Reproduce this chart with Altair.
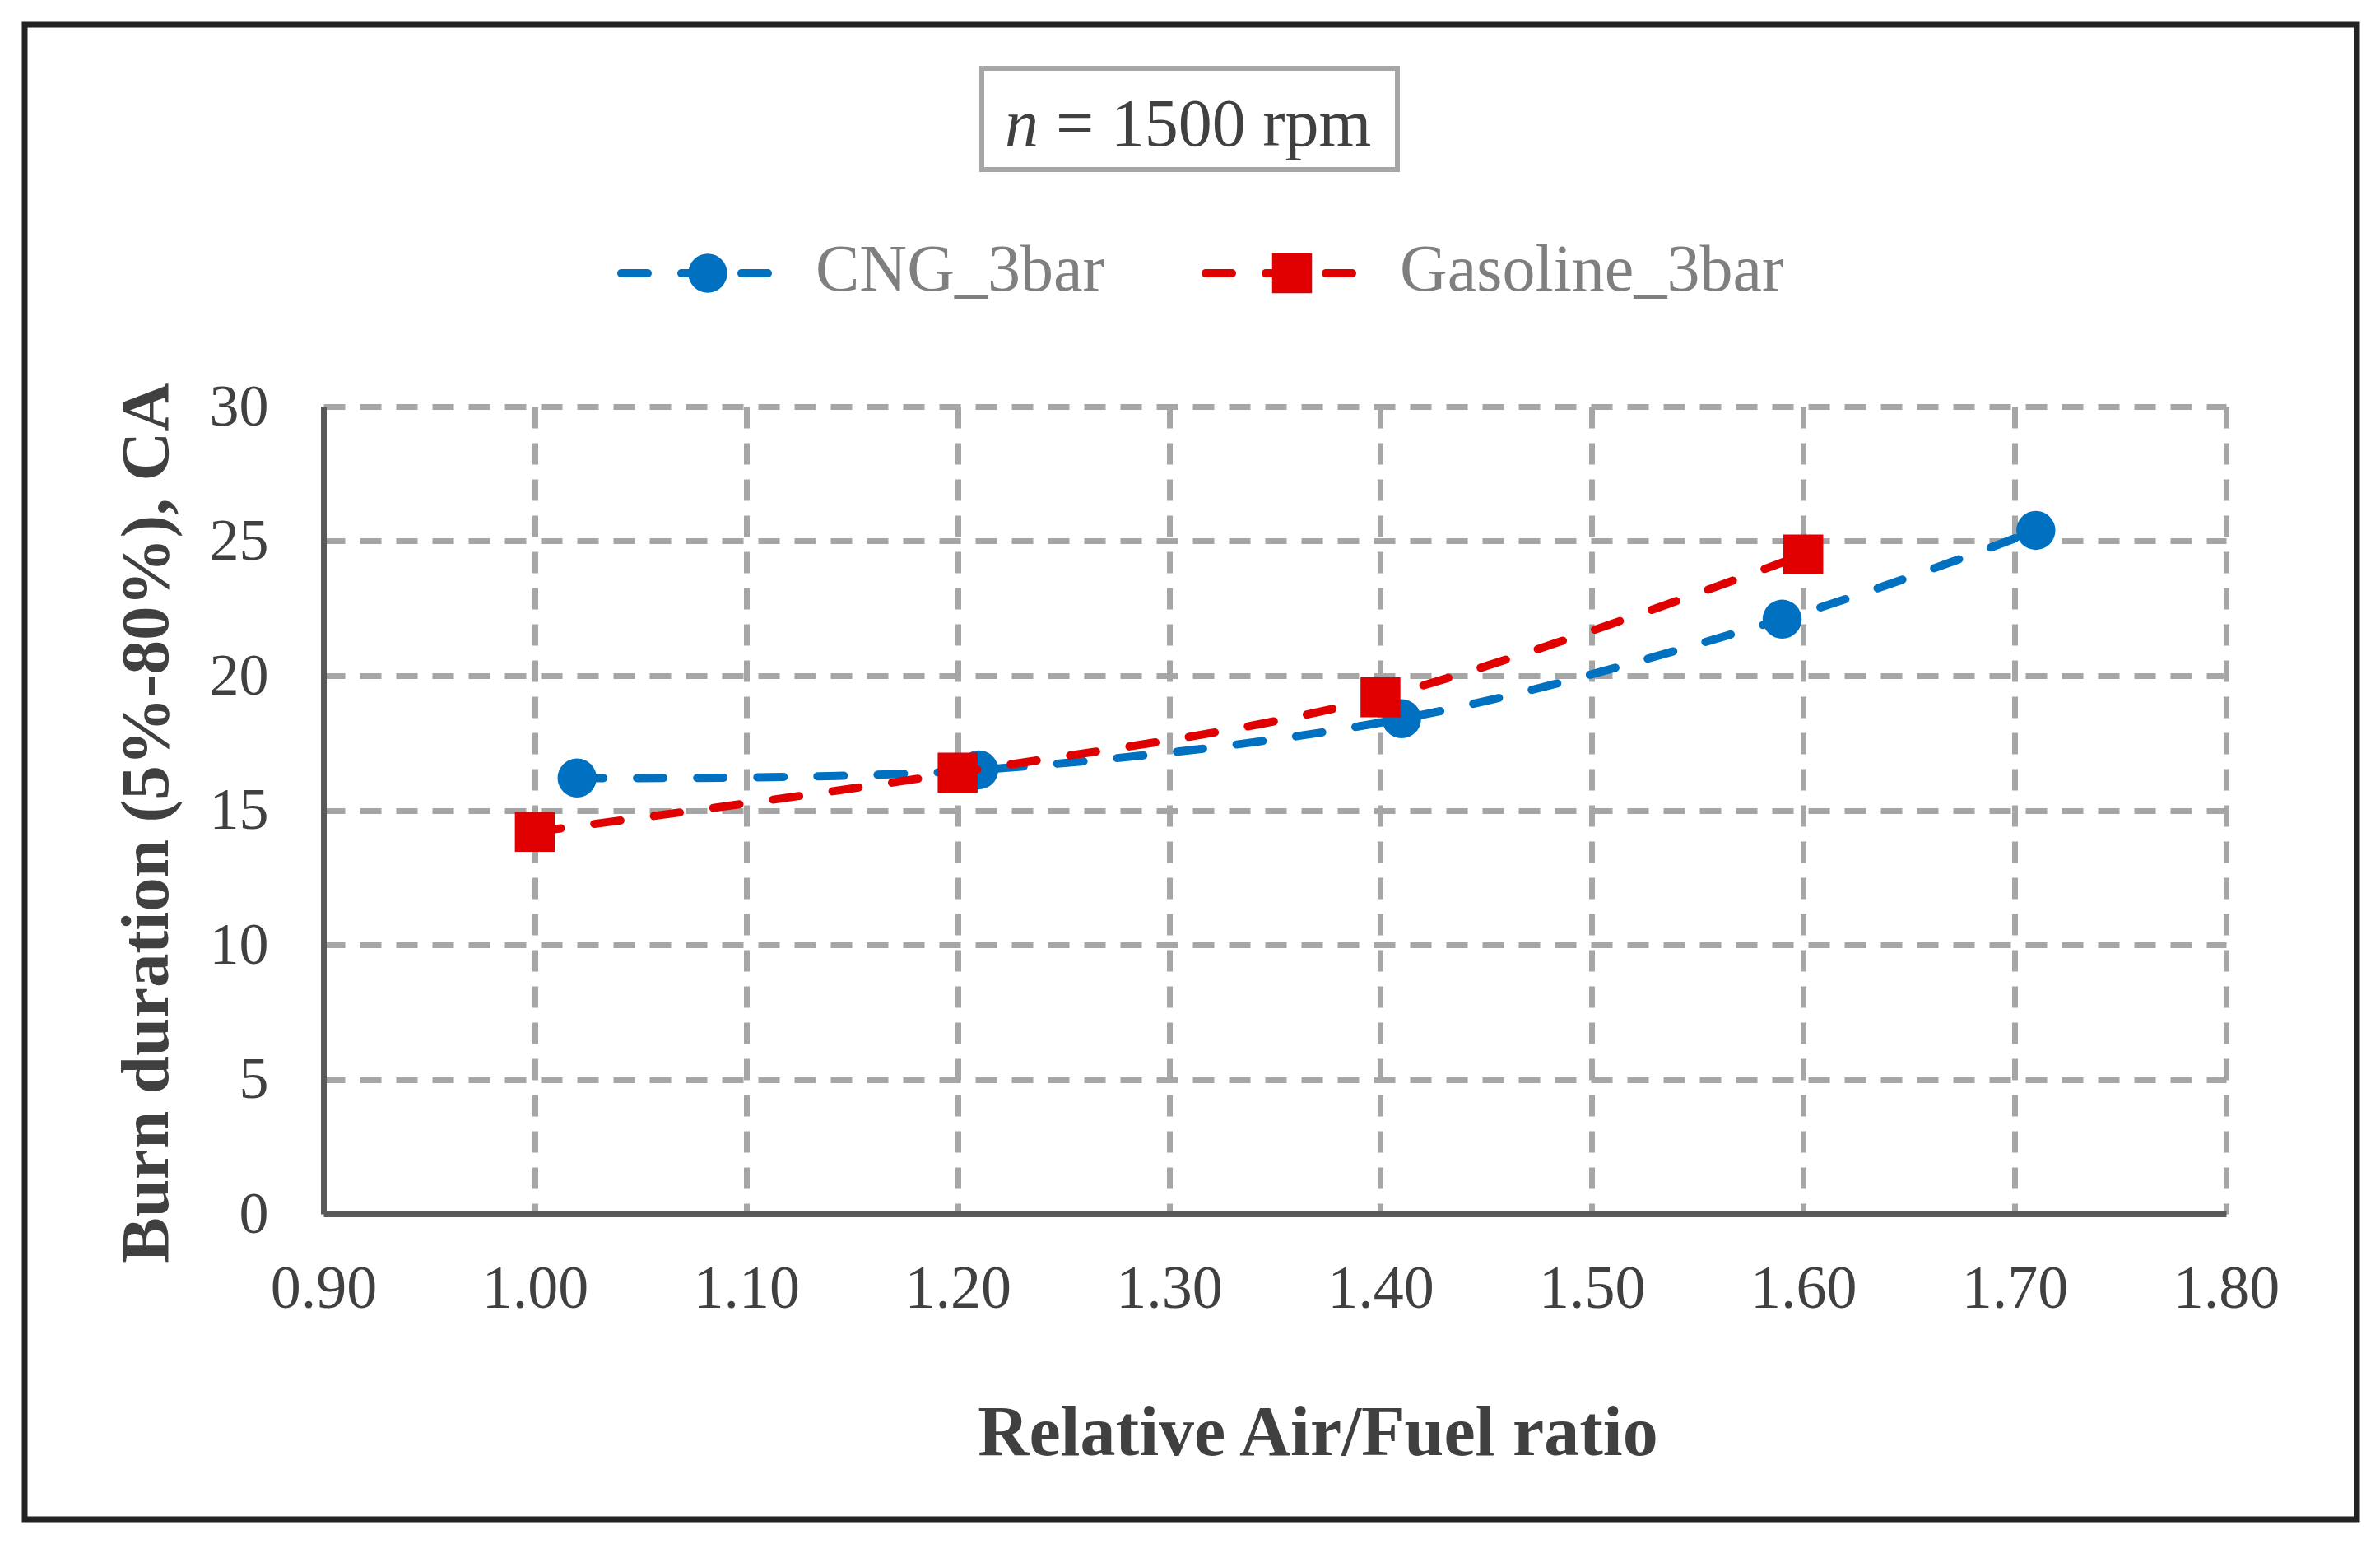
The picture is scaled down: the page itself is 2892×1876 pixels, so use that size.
import altair as alt
import pandas as pd

# ---------------- data ----------------
series_names = ["CNG_3bar", "Gasoline_3bar"]
series_colors = ["#0070C0", "#E00000"]
series_shapes = ["circle", "square"]
marker_sizes = [2250, 2350]

cng_x = [1.02, 1.21, 1.41, 1.59, 1.71]
cng_y = [16.2, 16.5, 18.4, 22.1, 25.4]
gas_x = [1.00, 1.20, 1.40, 1.60]
gas_y = [14.2, 16.4, 19.2, 24.5]

x_ticks = [0.90, 1.00, 1.10, 1.20, 1.30, 1.40, 1.50, 1.60, 1.70, 1.80]
y_ticks = [0, 5, 10, 15, 20, 25, 30]

title_var = "n"
title_rest = "= 1500 rpm"
x_title = "Relative Air/Fuel ratio"
y_title = "Burn duration (5%-80%), CA"

series_x = [cng_x, gas_x]
series_y = [cng_y, gas_y]

# ---------------- style ----------------
FONT = "Liberation Serif"
TEXT_DARK = "#404040"
GRID = "#a6a6a6"
AXIS = "#595959"
W, H = 2312, 981
LW = 10

x_scale = alt.Scale(domain=[0.9, 1.8], nice=False, zero=False)
y_scale = alt.Scale(domain=[0, 30], nice=False)
color_scale = alt.Scale(domain=series_names, range=series_colors)
shape_scale = alt.Scale(domain=series_names, range=series_shapes)

x_axis = alt.Axis(
    values=x_ticks, format=".2f", grid=True, gridColor=GRID, gridWidth=7,
    gridDash=[26, 18],
    gridOpacity={"condition": {"test": "datum.value < 0.95", "value": 0}, "value": 1},
    domainColor=AXIS, domainWidth=7, ticks=False, tickSize=0,
    labelFont=FONT, labelFontSize=74, labelColor=TEXT_DARK, labelPadding=113,
    labelBaseline="alphabetic", labelFlush=False, labelOverlap=False,
    title=x_title, titleFont=FONT, titleFontSize=86, titleFontWeight="bold",
    titleColor=TEXT_DARK, titleX=1208, titleY=292, titleAlign="center",
    titleBaseline="alphabetic",
)
y_axis = alt.Axis(
    values=y_ticks, grid=True, gridColor=GRID, gridWidth=7, gridDash=[26, 18],
    gridOpacity={"condition": {"test": "datum.value === 0", "value": 0}, "value": 1},
    domainColor=AXIS, domainWidth=7, ticks=False, tickSize=0,
    labelFont=FONT, labelFontSize=72, labelColor=TEXT_DARK, labelPadding=67,
    labelFlush=False, labelOverlap=False,
    title=y_title, titleFont=FONT, titleFontSize=83, titleFontWeight="bold",
    titleColor=TEXT_DARK, titleX=-190, titleY=505, titleAngle=270,
    titleAlign="center", titleBaseline="alphabetic",
)

one = pd.DataFrame({"k": [0]})

# outer frame
frame = alt.Chart(one).mark_rect(fill="white", fillOpacity=0, stroke="#222222", strokeWidth=7).encode(
    x=alt.value(-363), x2=alt.value(2471), y=alt.value(-464), y2=alt.value(1352)
)

# title box
title_box = alt.Chart(one).mark_rect(fill="white", stroke=GRID, strokeWidth=6).encode(
    x=alt.value(800), x2=alt.value(1305), y=alt.value(-411), y2=alt.value(-288)
)
t1 = alt.Chart(pd.DataFrame({"t": [title_var]})).mark_text(
    font=FONT, fontSize=82, fontStyle="italic", color=TEXT_DARK, align="left", baseline="alphabetic"
).encode(x=alt.value(828), y=alt.value(-317), text="t:N")
t2 = alt.Chart(pd.DataFrame({"t": [title_rest]})).mark_text(
    font=FONT, fontSize=82, color=TEXT_DARK, align="left", baseline="alphabetic"
).encode(x=alt.value(890), y=alt.value(-317), text="t:N")

layers = [frame, title_box, t1, t2]

# legend
legend_centers = [467, 1177]
LY = -162
for i, name in enumerate(series_names):
    m = legend_centers[i]
    d = pd.DataFrame({"series": [name]})
    col = alt.Color("series:N", scale=color_scale, legend=None)
    for a, b in [(m - 105, m - 73), (m - 32, m - 20), (m + 41, m + 73)]:
        layers.append(
            alt.Chart(d).mark_rule(strokeWidth=LW, strokeCap="round").encode(
                x=alt.value(a), x2=alt.value(b), y=alt.value(LY), color=col
            )
        )
    layers.append(
        alt.Chart(d).mark_point(filled=True, size=marker_sizes[i], opacity=1).encode(
            x=alt.value(m), y=alt.value(LY), color=col,
            shape=alt.Shape("series:N", scale=shape_scale, legend=None),
        )
    )
    layers.append(
        alt.Chart(d).mark_text(font=FONT, fontSize=80, color="#7f7f7f", align="left", baseline="alphabetic").encode(
            x=alt.value(m + 131), y=alt.value(-141), text="series:N"
        )
    )

# series
for i, name in enumerate(series_names):
    df = pd.DataFrame({"series": name, "x": series_x[i], "y": series_y[i]})
    X = alt.X("x:Q", scale=x_scale, axis=x_axis)
    Y = alt.Y("y:Q", scale=y_scale, axis=y_axis)
    C = alt.Color("series:N", scale=color_scale, legend=None)
    line = alt.Chart(df).mark_line(
        interpolate="cardinal", strokeWidth=LW, strokeDash=[32, 41], strokeCap="round"
    ).encode(x=X, y=Y, color=C)
    pts = alt.Chart(df).mark_point(filled=True, size=marker_sizes[i], opacity=1).encode(
        x=X, y=Y, color=C, shape=alt.Shape("series:N", scale=shape_scale, legend=None)
    )
    layers += [line, pts]

chart = alt.layer(*layers).properties(
    width=W, height=H,
    autosize=alt.AutoSizeParams(type="none"),
    padding={"left": 385, "top": 486, "right": 170, "bottom": 380},
    background="white",
).configure_view(strokeWidth=0)

chart.save("out.html", embed_options={"renderer": "svg", "actions": False})
